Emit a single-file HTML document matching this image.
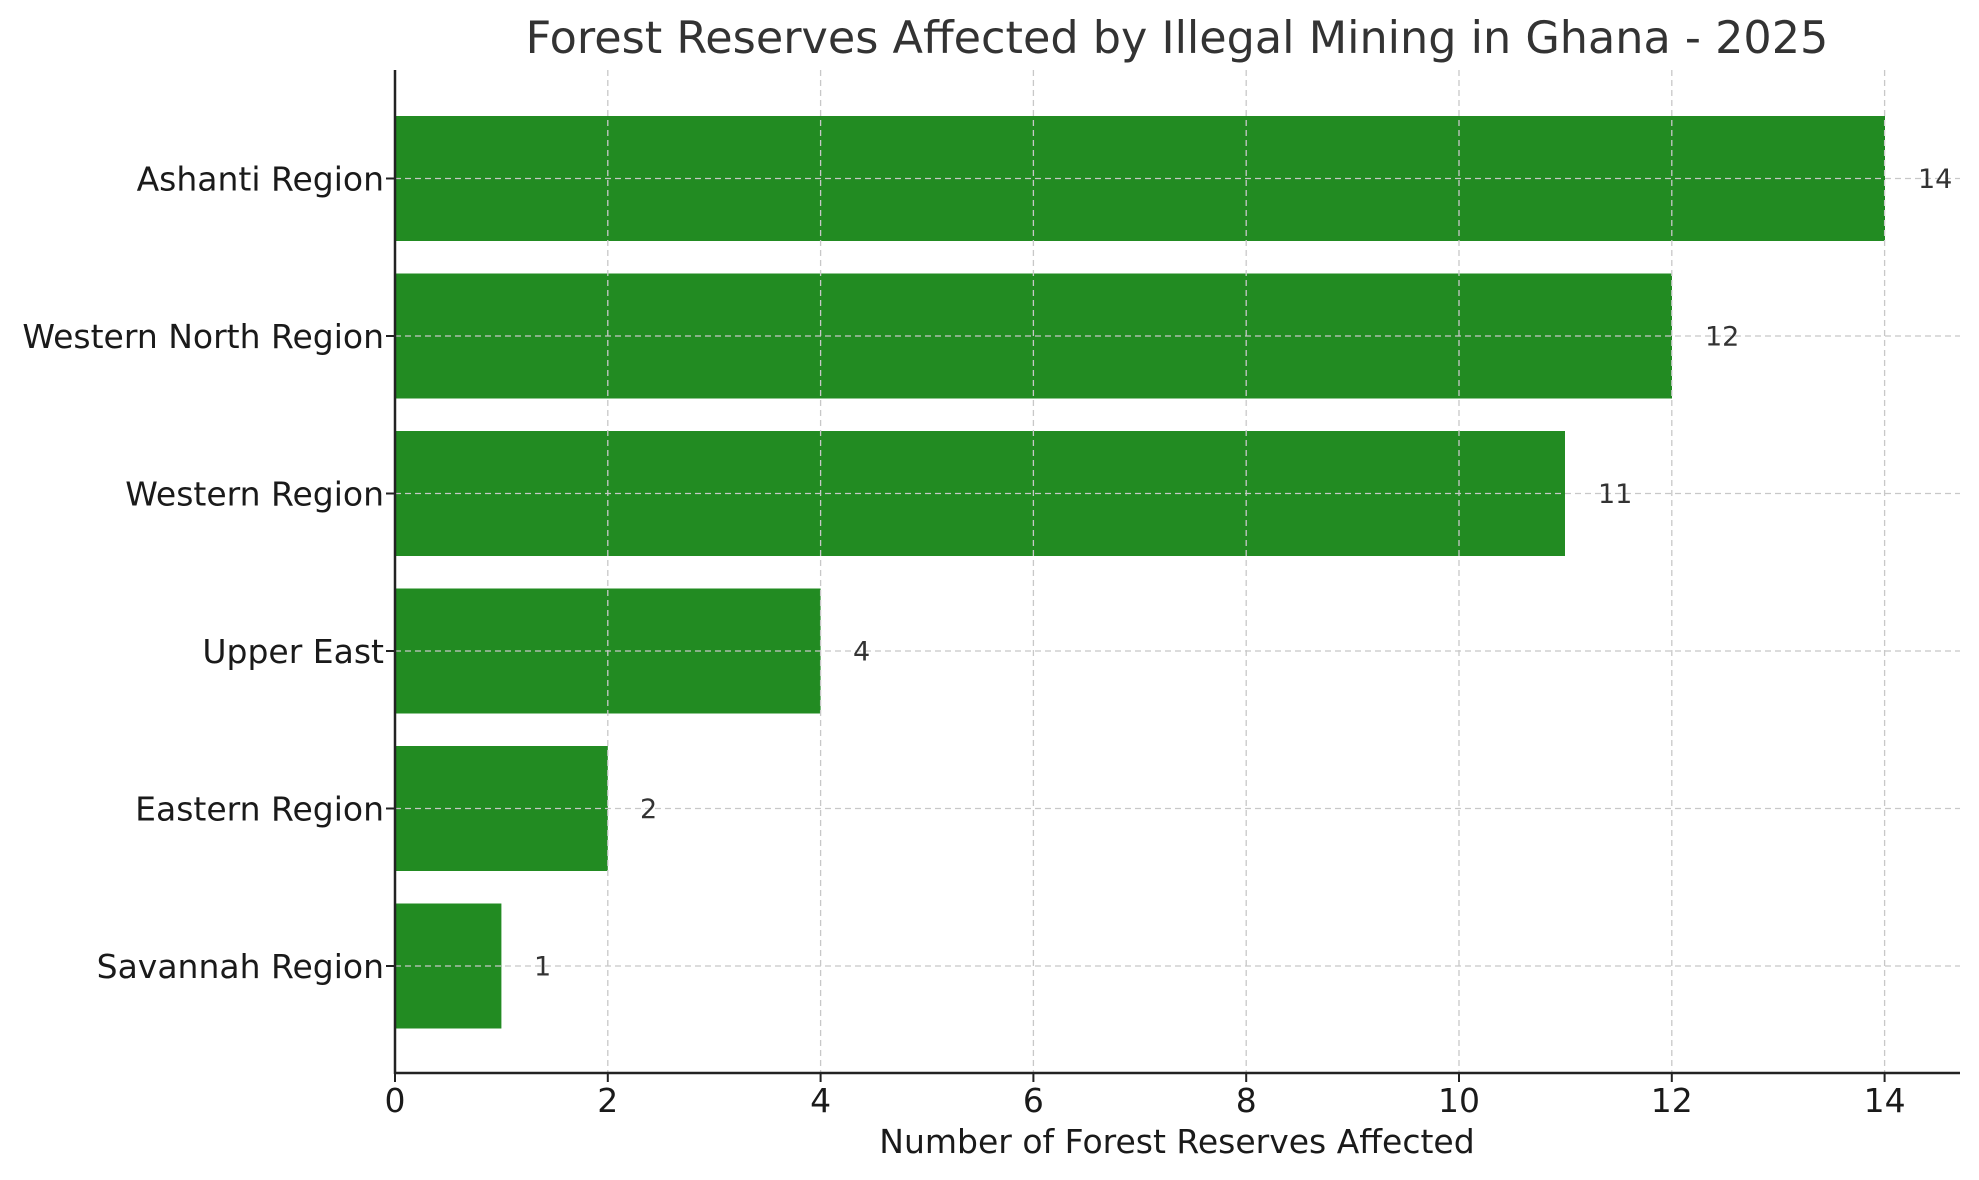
<!DOCTYPE html>
<html><head><meta charset="utf-8"><style>
html,body{margin:0;padding:0;background:#fff;}
svg{display:block;font-family:"DejaVu Sans","Liberation Sans",sans-serif;}
</style></head><body>
<svg width="1979" height="1180" viewBox="0 0 1979 1180" xmlns="http://www.w3.org/2000/svg">
<rect width="1979" height="1180" fill="#fff"/>
<g fill="#228b22">
<rect x="395" y="116" width="1490" height="125"/>
<rect x="395" y="273.5" width="1277" height="125"/>
<rect x="395" y="431" width="1170" height="125"/>
<rect x="395" y="588.5" width="425.6" height="125"/>
<rect x="395" y="746" width="212.8" height="125"/>
<rect x="395" y="903.5" width="106.4" height="125"/>
</g>
<g stroke="#c8c8c8" stroke-width="1.3" stroke-dasharray="6,4">
<line x1="607.8" y1="70" x2="607.8" y2="1073"/>
<line x1="820.6" y1="70" x2="820.6" y2="1073"/>
<line x1="1033.4" y1="70" x2="1033.4" y2="1073"/>
<line x1="1246.2" y1="70" x2="1246.2" y2="1073"/>
<line x1="1459" y1="70" x2="1459" y2="1073"/>
<line x1="1671.8" y1="70" x2="1671.8" y2="1073"/>
<line x1="1884.6" y1="70" x2="1884.6" y2="1073"/>
<line x1="395" y1="178.5" x2="1960" y2="178.5"/>
<line x1="395" y1="336" x2="1960" y2="336"/>
<line x1="395" y1="493.5" x2="1960" y2="493.5"/>
<line x1="395" y1="651" x2="1960" y2="651"/>
<line x1="395" y1="808.5" x2="1960" y2="808.5"/>
<line x1="395" y1="966" x2="1960" y2="966"/>
</g>
<g stroke="#222" stroke-width="2.5">
<line x1="395" y1="70" x2="395" y2="1074"/>
<line x1="394" y1="1073" x2="1960" y2="1073"/>
</g>
<g stroke="#222" stroke-width="2">
<line x1="395" y1="1073" x2="395" y2="1082"/>
<line x1="607.8" y1="1073" x2="607.8" y2="1082"/>
<line x1="820.6" y1="1073" x2="820.6" y2="1082"/>
<line x1="1033.4" y1="1073" x2="1033.4" y2="1082"/>
<line x1="1246.2" y1="1073" x2="1246.2" y2="1082"/>
<line x1="1459" y1="1073" x2="1459" y2="1082"/>
<line x1="1671.8" y1="1073" x2="1671.8" y2="1082"/>
<line x1="1884.6" y1="1073" x2="1884.6" y2="1082"/>
<line x1="386" y1="178.5" x2="395" y2="178.5"/>
<line x1="386" y1="336" x2="395" y2="336"/>
<line x1="386" y1="493.5" x2="395" y2="493.5"/>
<line x1="386" y1="651" x2="395" y2="651"/>
<line x1="386" y1="808.5" x2="395" y2="808.5"/>
<line x1="386" y1="966" x2="395" y2="966"/>
</g>
<g font-size="33" fill="#1a1a1a" text-anchor="middle">
<text x="395" y="1112">0</text>
<text x="607.8" y="1112">2</text>
<text x="820.6" y="1112">4</text>
<text x="1033.4" y="1112">6</text>
<text x="1246.2" y="1112">8</text>
<text x="1459" y="1112">10</text>
<text x="1671.8" y="1112">12</text>
<text x="1884.6" y="1112">14</text>
</g>
<g font-size="33" fill="#1a1a1a" text-anchor="end">
<text x="384" y="190.5">Ashanti Region</text>
<text x="384" y="348">Western North Region</text>
<text x="384" y="505.5">Western Region</text>
<text x="384" y="663">Upper East</text>
<text x="384" y="820.5">Eastern Region</text>
<text x="384" y="978">Savannah Region</text>
</g>
<g font-size="27" fill="#333">
<text x="1918" y="188">14</text>
<text x="1705" y="345.5">12</text>
<text x="1598" y="503">11</text>
<text x="853" y="660.5">4</text>
<text x="640" y="818">2</text>
<text x="534" y="975.5">1</text>
</g>
<text x="1177" y="1153" font-size="33" fill="#1a1a1a" text-anchor="middle">Number of Forest Reserves Affected</text>
<text x="1177" y="53" font-size="44.5" fill="#333" text-anchor="middle">Forest Reserves Affected by Illegal Mining in Ghana - 2025</text>
</svg>
</body></html>
